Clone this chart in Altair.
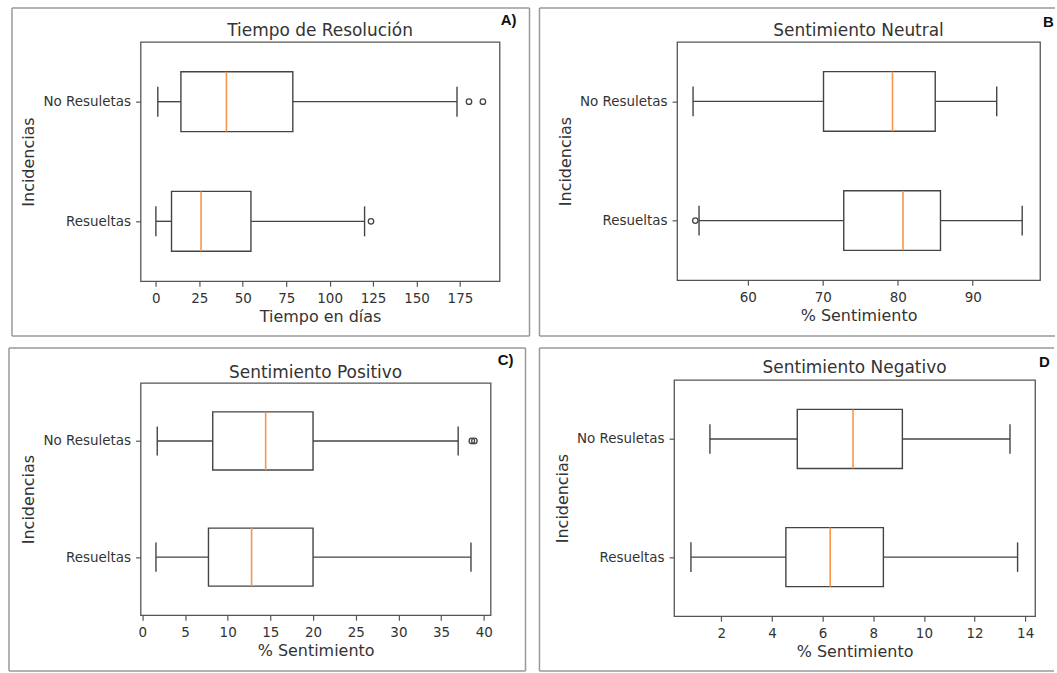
import altair as alt
import pandas as pd

categories = ["Resueltas", "No Resuletas"]

titles = ["Tiempo de Resolución", "Sentimiento Neutral", "Sentimiento Positivo", "Sentimiento Negativo"]
x_titles = ["Tiempo en días", "% Sentimiento", "% Sentimiento", "% Sentimiento"]
y_title = "Incidencias"
panel_labels = ["A)", "B", "C)", "D"]

# Panel A: Tiempo de Resolución
tiempo_whislo = [0.0, 1.1]
tiempo_q1 = [9.0, 14.4]
tiempo_med = [26.0, 40.6]
tiempo_q3 = [54.7, 78.8]
tiempo_whishi = [120.1, 173.3]
tiempo_out_cat = ["Resueltas", "No Resuletas", "No Resuletas"]
tiempo_out_val = [123.8, 180.2, 188.2]
tiempo_ticks = [0, 25, 50, 75, 100, 125, 150, 175]

# Panel B: Sentimiento Neutral
neutral_whislo = [53.5, 52.7]
neutral_q1 = [72.8, 70.1]
neutral_med = [80.7, 79.3]
neutral_q3 = [85.7, 85.0]
neutral_whishi = [96.6, 93.2]
neutral_out_cat = ["Resueltas"]
neutral_out_val = [53.0]
neutral_ticks = [60, 70, 80, 90]

# Panel C: Sentimiento Positivo
positivo_whislo = [1.6, 1.75]
positivo_q1 = [7.75, 8.25]
positivo_med = [12.8, 14.45]
positivo_q3 = [20.0, 20.0]
positivo_whishi = [38.5, 37.0]
positivo_out_cat = ["No Resuletas", "No Resuletas"]
positivo_out_val = [38.6, 38.9]
positivo_ticks = [0, 5, 10, 15, 20, 25, 30, 35, 40]

# Panel D: Sentimiento Negativo
negativo_whislo = [0.8, 1.55]
negativo_q1 = [4.55, 5.0]
negativo_med = [6.3, 7.2]
negativo_q3 = [8.4, 9.15]
negativo_whishi = [13.7, 13.4]
negativo_out_cat = []
negativo_out_val = []
negativo_ticks = [2, 4, 6, 8, 10, 12, 14]

EDGE = "#444444"
MEDIAN = "#f7964a"
FRAME = "#9a9a9a"
TEXT = "#333333"
FONT = "DejaVu Sans"

label_expr = " : ".join(
    f"datum.value == {i + 1} ? '{c}'" for i, c in enumerate(categories[:-1])
) + f" : '{categories[-1]}'"


def panel(title, xtitle, label, whislo, q1, med, q3, whishi, out_cat, out_val,
          ticks, domain, w, h, frame, label_spec, title_y):
    pos = list(range(1, len(categories) + 1))
    df = pd.DataFrame({"cat": categories, "pos": pos, "whislo": whislo, "q1": q1,
                       "med": med, "q3": q3, "whishi": whishi})
    base = alt.Chart(df).transform_calculate(
        lo="datum.pos - 0.25", hi="datum.pos + 0.25",
        clo="datum.pos - 0.125", chi="datum.pos + 0.125")
    xs = alt.Scale(domain=domain, nice=False, zero=False)
    ys = alt.Scale(domain=[0.5, 2.5], nice=False, zero=False)
    xaxis = alt.Axis(values=ticks, title=xtitle, grid=False, domain=False,
                     tickSize=5, labelPadding=5, titlePadding=3.5,
                     labelOverlap=False, labelFlush=False)
    yaxis = alt.Axis(values=pos, labelExpr=label_expr, title=y_title, grid=False,
                     domain=False, tickSize=5, labelPadding=5, titlePadding=6,
                     labelOverlap=False, labelFlush=False)

    def X(f):
        return alt.X(f"{f}:Q", scale=xs, axis=xaxis)

    def Y(f):
        return alt.Y(f"{f}:Q", scale=ys, axis=yaxis)

    layers = []
    layers.append(base.mark_rule(color=EDGE, strokeWidth=1.4).encode(
        x=X("whislo"), x2="q1:Q", y=Y("pos")))
    layers.append(base.mark_rule(color=EDGE, strokeWidth=1.4).encode(
        x=X("q3"), x2="whishi:Q", y=Y("pos")))
    layers.append(base.mark_rule(color=EDGE, strokeWidth=1.4).encode(
        x=X("whislo"), y=Y("clo"), y2="chi:Q"))
    layers.append(base.mark_rule(color=EDGE, strokeWidth=1.4).encode(
        x=X("whishi"), y=Y("clo"), y2="chi:Q"))
    layers.append(base.mark_rect(fill="white", stroke=EDGE, strokeWidth=1.4).encode(
        x=X("q1"), x2="q3:Q", y=Y("lo"), y2="hi:Q"))
    layers.append(base.mark_rule(color=MEDIAN, strokeWidth=1.6).encode(
        x=X("med"), y=Y("lo"), y2="hi:Q"))
    if out_val:
        odf = pd.DataFrame({"cat": out_cat, "val": out_val})
        odf["pos"] = [categories.index(c) + 1 for c in out_cat]
        layers.append(alt.Chart(odf).mark_point(
            shape="circle", filled=False, stroke=EDGE, strokeWidth=1.3, size=30,
            opacity=1).encode(x=X("val"), y=Y("pos")))

    one = alt.Chart(pd.DataFrame({"k": [0]}))
    fl, fr, ft, fb, closed = frame
    frame_style = dict(color=FRAME, strokeWidth=1.5)
    layers.append(one.mark_rule(**frame_style).encode(
        x=alt.value(fl), x2=alt.value(w + fr), y=alt.value(ft)))
    layers.append(one.mark_rule(**frame_style).encode(
        x=alt.value(fl), x2=alt.value(w + fr), y=alt.value(h + fb)))
    layers.append(one.mark_rule(**frame_style).encode(
        x=alt.value(fl), y=alt.value(ft), y2=alt.value(h + fb)))
    if closed:
        layers.append(one.mark_rule(**frame_style).encode(
            x=alt.value(w + fr), y=alt.value(ft), y2=alt.value(h + fb)))

    # panel title
    layers.append(one.mark_text(text=title, font=FONT, fontSize=17, color=TEXT,
                                align="center", baseline="alphabetic").encode(
        x=alt.value(w / 2), y=alt.value(title_y)))

    lx, ly, lalign = label_spec
    layers.append(one.mark_text(text=label, font="Liberation Sans", fontSize=15,
                                fontWeight="bold", color="#111111", align=lalign,
                                baseline="middle").encode(
        x=alt.value(w + lx), y=alt.value(ly)))

    return alt.layer(*layers).properties(width=w, height=h)


pA = panel(titles[0], x_titles[0], panel_labels[0], tiempo_whislo, tiempo_q1,
           tiempo_med, tiempo_q3, tiempo_whishi, tiempo_out_cat, tiempo_out_val,
           tiempo_ticks, [-8.8, 197.8], 360, 240, (-129, 30, -34, 55, True),
           (17, -22, "right"), -6)
pB = panel(titles[1], x_titles[1], panel_labels[1], neutral_whislo, neutral_q1,
           neutral_med, neutral_q3, neutral_whishi, neutral_out_cat, neutral_out_val,
           neutral_ticks, [50.57, 98.98], 364, 239, (-138, 15, -34, 56, False),
           (3, -20, "left"), -6)
pC = panel(titles[2], x_titles[2], panel_labels[2], positivo_whislo, positivo_q1,
           positivo_med, positivo_q3, positivo_whishi, positivo_out_cat,
           positivo_out_val, positivo_ticks, [-0.2, 40.8], 351, 233,
           (-132, 35, -35, 56, True), (23, -23, "right"), -5)
pD = panel(titles[3], x_titles[3], panel_labels[3], negativo_whislo, negativo_q1,
           negativo_med, negativo_q3, negativo_whishi, negativo_out_cat,
           negativo_out_val, negativo_ticks, [0.135, 14.39], 362, 237,
           (-135, 19, -32, 55, False), (4, -18, "left"), -6.5)

chart = alt.concat(
    pA, pB, pC, pD, columns=2, spacing={"row": 8, "column": 6},
    align="none", bounds="full",
).properties(
    padding={"left": 7, "top": 5, "right": 0, "bottom": 0},
    background="white",
).configure_view(
    stroke="#555555", strokeWidth=1.3
).configure_axis(
    labelFont=FONT, labelFontSize=13.5, labelColor=TEXT,
    titleFont=FONT, titleFontSize=16, titleFontWeight="normal", titleColor=TEXT,
    tickColor="#555555", tickWidth=1.2,
)

chart.save("out.html", embed_options={"renderer": "svg", "actions": False})
